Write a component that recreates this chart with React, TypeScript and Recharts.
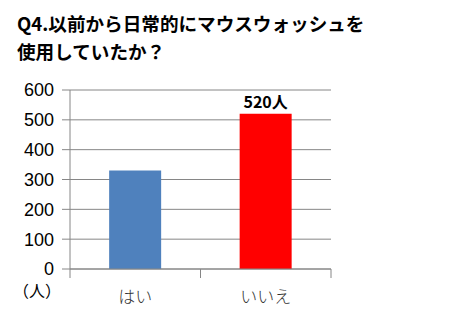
import { BarChart, Bar, XAxis, YAxis, CartesianGrid, Cell, LabelList } from 'recharts';

const categories = ['はい', 'いいえ'];
const counts = [330, 520];
const barColors = ['#4F81BD', '#FF0000'];
const yTicks = [0, 100, 200, 300, 400, 500, 600];
const titleLines = ['Q4.以前から日常的にマウスウォッシュを', '使用していたか？'];
const unitLabel = '（人）';

const data = categories.map((name, i) => ({ name, value: counts[i] }));

const BAND = (331 - 70) / categories.length;

function CategoryTick(props: any) {
    const { x, y, payload, index } = props;
    return (
        <g>
            <line x1={x - BAND / 2} y1={y - 8} x2={x - BAND / 2} y2={y + 1} stroke="#868686" />
            {index === categories.length - 1 && (
                <line x1={x + BAND / 2} y1={y - 8} x2={x + BAND / 2} y2={y + 1} stroke="#868686" />
            )}
            <text x={x} y={y + 26} textAnchor="middle" fill="#333" fontSize={17}
                fontFamily="'Noto Sans CJK JP'" fontWeight={300}>
                {payload.value}
            </text>
        </g>
    );
}

function TopLabel(props: any) {
    const { x, y, width, value, index } = props;
    if (index !== 1) return null;
    return (
        <text x={x + width / 2} y={y - 6} textAnchor="middle" fill="#000" fontSize={16}
            fontWeight="bold" fontFamily="'Noto Sans CJK JP'">
            {`${value}人`}
        </text>
    );
}

export default function App() {
    return (
        <div style={{ position: 'absolute', left: 0, top: 0, width: 463, height: 324, background: '#fff' }}>
            <div style={{
                position: 'absolute', left: 17, top: 9, fontSize: 18.6, fontWeight: 'bold',
                lineHeight: '28px', fontFamily: "'Noto Sans CJK JP'", color: '#000', whiteSpace: 'nowrap'
            }}>
                {titleLines.map(l => <div key={l}>{l}</div>)}
            </div>
            <div style={{
                position: 'absolute', left: 13, top: 278, fontSize: 16,
                fontFamily: "'Noto Sans CJK JP'", color: '#000'
            }}>{unitLabel}</div>
            <BarChart width={463} height={324} data={data}
                margin={{ top: 90, right: 132, bottom: 25, left: 0 }} barCategoryGap="30%">
                <CartesianGrid vertical={false} stroke="#868686" />
                <XAxis dataKey="name" stroke="#868686" tickLine={false} tick={<CategoryTick />} interval={0} height={30} />
                <YAxis width={70} domain={[0, 600]} ticks={yTicks} stroke="#868686" tickSize={8}
                    tick={{ fill: '#000', fontSize: 18, dx: -6, fontFamily: "'Liberation Sans', Arial" }} interval={0} />
                <Bar dataKey="value" isAnimationActive={false}>
                    {data.map((d, i) => <Cell key={d.name} fill={barColors[i]} />)}
                    <LabelList dataKey="value" content={<TopLabel />} />
                </Bar>
            </BarChart>
        </div>
    );
}
